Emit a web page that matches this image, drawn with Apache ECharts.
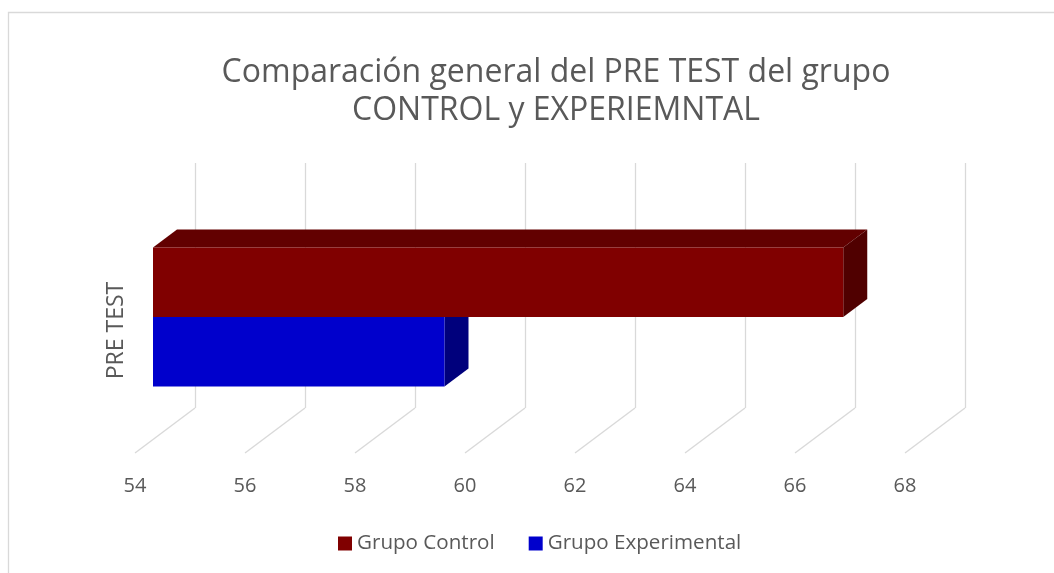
<!DOCTYPE html>
<html><head><meta charset="utf-8">
<script src="https://cdn.jsdelivr.net/npm/echarts@6/dist/echarts.min.js"></script>
<style>html,body{margin:0;padding:0;background:#fff}#c{width:1054px;height:573px}</style>
</head><body><div id="c"></div>
<script>
const TITLE = 'Comparación general del PRE TEST del grupo\nCONTROL y EXPERIEMNTAL';
const categories = ['PRE TEST'];
const seriesNames = ['Grupo Control', 'Grupo Experimental'];
const controlValues = [66.55];
const experimentalValues = [59.3];
const xTicks = [54, 56, 58, 60, 62, 64, 66, 68];

const FONT = '"Open Sans", sans-serif';
const TEXT = '#595959';
const GRID_C = '#d9d9d9';
const DEPTH = [-60, 45];          // back wall -> front floor edge
const BAR_FRONT = 0.7, BAR_BACK = 0.3;
const BAR_FRAC = 0.2837;
const CONTROL_FACES = { front: '#800000', top: '#620000', side: '#500000' };
const EXP_FACES = { front: '#0000cc', top: '#0000a0', side: '#00007c' };

const xMin = xTicks[0], xMax = xTicks[xTicks.length - 1], xStep = xTicks[1] - xTicks[0];

function barItem(pos, faces) {
  return function (params, api) {
    const v = api.value(0), c = api.value(1);
    const p0 = api.coord([xMin, c]);
    const p1 = api.coord([v, c]);
    const h = api.size([0, 1])[1] * BAR_FRAC;
    const top = pos === 'upper' ? p0[1] - h : p0[1];
    const bot = top + h;
    const fx = DEPTH[0] * BAR_FRONT, fy = DEPTH[1] * BAR_FRONT;
    const bx = DEPTH[0] * BAR_BACK, by = DEPTH[1] * BAR_BACK;
    const xl = p0[0], xr = p1[0];
    const F = (x, y) => [x + fx, y + fy], B = (x, y) => [x + bx, y + by];
    return { type: 'group', children: [
      { type: 'polygon', shape: { points: [F(xl, top), B(xl, top), B(xr, top), F(xr, top)] }, style: { fill: faces.top } },
      { type: 'polygon', shape: { points: [F(xr, top), B(xr, top), B(xr, bot), F(xr, bot)] }, style: { fill: faces.side } },
      { type: 'rect', shape: { x: xl + fx, y: top + fy, width: xr - xl, height: h }, style: { fill: faces.front } }
    ] };
  };
}

const chart = echarts.init(document.getElementById('c'), null, { renderer: 'canvas' });
chart.setOption({
  animation: false,
  backgroundColor: '#fff',
  textStyle: { fontFamily: FONT },
  legend: {
    data: seriesNames, top: 528, left: 333, padding: 5,
    icon: 'rect', itemWidth: 14, itemHeight: 14, itemGap: 34,
    textStyle: { fontFamily: FONT, fontSize: 20.6, color: TEXT }
  },
  graphic: [
    { type: 'rect', silent: true, shape: { x: 8.5, y: 12.5, width: 1100, height: 620 },
      style: { fill: 'none', stroke: '#d9d9d9', lineWidth: 1.3 }, z: -10 },
    { type: 'text', silent: true, x: 556, y: 54,
      style: { text: TITLE, align: 'center', verticalAlign: 'top', fill: TEXT,
               font: '32px "Open Sans", sans-serif', lineHeight: 38 } }
  ],
  grid: [
    { left: 195, width: 770, top: 163, height: 245 },
    { left: 135, width: 770, top: 208, height: 245 }
  ],
  xAxis: [
    { gridIndex: 0, type: 'value', min: xMin, max: xMax, interval: xStep,
      axisLine: { show: false }, axisTick: { show: false }, axisLabel: { show: false },
      splitLine: { show: true, lineStyle: { color: GRID_C, width: 1.3 } } },
    { gridIndex: 1, type: 'value', min: xMin, max: xMax, interval: xStep,
      axisLine: { show: false }, axisTick: { show: false }, splitLine: { show: false },
      axisLabel: { margin: 23, color: TEXT, fontSize: 20, fontFamily: FONT } }
  ],
  yAxis: [
    { gridIndex: 0, type: 'category', data: categories, show: false },
    { gridIndex: 1, type: 'category', data: categories,
      axisLine: { show: false }, axisTick: { show: false }, splitLine: { show: false },
      axisLabel: { rotate: 90, margin: 7, color: TEXT, fontSize: 23, fontFamily: FONT } }
  ],
  series: [
    { type: 'custom', name: 'floor', xAxisIndex: 0, yAxisIndex: 0, silent: true, z: 1,
      data: xTicks.map(t => [t, 0]), encode: { x: 0, y: 1 },
      renderItem: function (params, api) {
        const x = api.coord([api.value(0), 0])[0];
        const y = params.coordSys.y + params.coordSys.height;
        return { type: 'line', shape: { x1: x, y1: y, x2: x + DEPTH[0], y2: y + DEPTH[1] },
                 style: { stroke: GRID_C, lineWidth: 1.3 } };
      } },
    { type: 'custom', name: seriesNames[0], xAxisIndex: 0, yAxisIndex: 0, z: 4,
      itemStyle: { color: CONTROL_FACES.front },
      data: controlValues.map((v, i) => [v, i]), encode: { x: 0, y: 1 },
      renderItem: barItem('upper', CONTROL_FACES) },
    { type: 'custom', name: seriesNames[1], xAxisIndex: 0, yAxisIndex: 0, z: 3,
      itemStyle: { color: EXP_FACES.front },
      data: experimentalValues.map((v, i) => [v, i]), encode: { x: 0, y: 1 },
      renderItem: barItem('lower', EXP_FACES) }
  ]
});
</script></body></html>
